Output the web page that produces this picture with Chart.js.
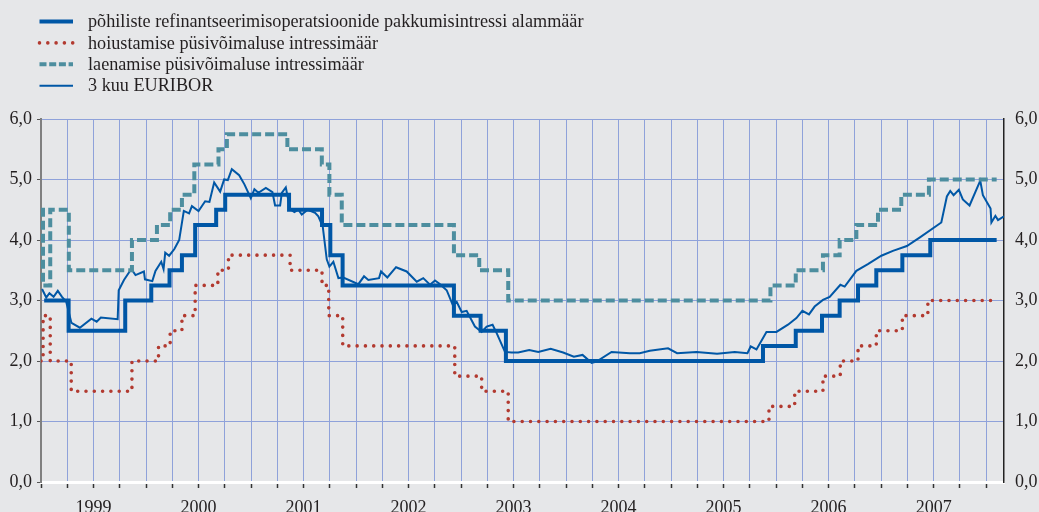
<!DOCTYPE html>
<html>
<head>
<meta charset="utf-8">
<script src="https://cdn.jsdelivr.net/npm/chart.js@4.4.1/dist/chart.umd.min.js"></script>
<style>
  html, body { margin: 0; padding: 0; background: #e6e7e9; }
  #wrap { width: 1039px; height: 512px; }
</style>
</head>
<body>
<div id="wrap"><canvas id="graafikIntressid" width="1039" height="512"></canvas></div>
<script>
// Intressimäärad 1999-2008 (aeg kümnendaastates)
const refiDates = [1999.03, 1999.263, 1999.802, 2000.05, 2000.224, 2000.342, 2000.468, 2000.668, 2000.754, 2001.362, 2001.676, 2001.755, 2001.872, 2002.932, 2003.186, 2003.427, 2005.875, 2006.187, 2006.437, 2006.605, 2006.78, 2006.954, 2007.202, 2007.468, 2008.1];
const refiRates = [3.0, 2.5, 3.0, 3.25, 3.5, 3.75, 4.25, 4.5, 4.75, 4.5, 4.25, 3.75, 3.25, 2.75, 2.5, 2.0, 2.25, 2.5, 2.75, 3.0, 3.25, 3.5, 3.75, 4.0, 4.0];

const depositDates = [1999.0, 1999.02, 1999.088, 1999.288, 1999.866, 2000.119, 2000.23, 2000.342, 2000.468, 2000.684, 2000.785, 2001.372, 2001.676, 2001.74, 2001.873, 2002.94, 2003.196, 2003.449, 2005.932, 2006.177, 2006.446, 2006.611, 2006.78, 2006.954, 2007.202, 2007.445, 2008.1];
const depositRates = [2.0, 2.75, 2.0, 1.5, 2.0, 2.25, 2.5, 2.75, 3.25, 3.5, 3.75, 3.5, 3.25, 2.75, 2.25, 1.75, 1.5, 1.0, 1.25, 1.5, 1.75, 2.0, 2.25, 2.5, 2.75, 3.0, 3.0];

const lendingDates = [1999.0, 1999.019, 1999.088, 1999.265, 1999.866, 2000.104, 2000.23, 2000.342, 2000.46, 2000.69, 2000.77, 2001.346, 2001.674, 2001.746, 2001.864, 2002.932, 2003.173, 2003.449, 2005.946, 2006.187, 2006.446, 2006.605, 2006.764, 2006.97, 2007.192, 2007.455, 2008.1];
const lendingRates = [4.5, 3.25, 4.5, 3.5, 4.0, 4.25, 4.5, 4.75, 5.25, 5.5, 5.75, 5.5, 5.25, 4.75, 4.25, 3.75, 3.5, 3.0, 3.25, 3.5, 3.75, 4.0, 4.25, 4.5, 4.75, 5.0, 5.0];

const euriborDates = [1999.01, 1999.05, 1999.08, 1999.12, 1999.16, 1999.20, 1999.24, 1999.29, 1999.37, 1999.48, 1999.53, 1999.57, 1999.73, 1999.74, 1999.79, 1999.86, 1999.90, 1999.98, 1999.99,
  2000.06, 2000.09, 2000.145, 2000.167, 2000.183, 2000.22, 2000.27, 2000.316, 2000.36, 2000.41, 2000.437, 2000.50, 2000.563, 2000.604, 2000.649, 2000.706, 2000.744, 2000.779, 2000.817, 2000.887, 2000.937, 2000.998,
  2001.032, 2001.07, 2001.141, 2001.204, 2001.229, 2001.277, 2001.293, 2001.331, 2001.372, 2001.413, 2001.451, 2001.483, 2001.54, 2001.61, 2001.641, 2001.683, 2001.721, 2001.746, 2001.784, 2001.832, 2001.879,
  2002.022, 2002.076, 2002.117, 2002.219, 2002.238, 2002.298, 2002.381, 2002.482, 2002.578, 2002.64, 2002.704, 2002.752, 2002.8, 2002.863, 2002.92, 2002.958,
  2003.006, 2003.053, 2003.132, 2003.196, 2003.244, 2003.30, 2003.339, 2003.418, 2003.481, 2003.544, 2003.649, 2003.735, 2003.853, 2003.972,
  2004.074, 2004.157, 2004.243, 2004.29, 2004.433, 2004.607, 2004.702, 2004.797, 2004.971,
  2005.057, 2005.242, 2005.438, 2005.606, 2005.727, 2005.758, 2005.813, 2005.908,
  2006.003, 2006.113, 2006.193, 2006.25, 2006.313, 2006.367, 2006.446, 2006.51, 2006.612, 2006.653, 2006.764, 2006.874,
  2007.002, 2007.112, 2007.245, 2007.366, 2007.573, 2007.626, 2007.658, 2007.69, 2007.74, 2007.778, 2007.842, 2007.944, 2007.969,
  2008.042, 2008.05, 2008.088, 2008.113, 2008.17];
const euriborRates = [3.19, 3.05, 3.12, 3.06, 3.16, 3.06, 2.98, 2.63, 2.55, 2.70, 2.65, 2.72, 2.69, 3.17, 3.34, 3.52, 3.42, 3.48, 3.35,
  3.32, 3.49, 3.64, 3.52, 3.79, 3.74, 3.85, 4.0, 4.48, 4.44, 4.56, 4.48, 4.64, 4.63, 4.95, 4.80, 5.0, 4.99, 5.17, 5.07, 4.92, 4.69,
  4.84, 4.78, 4.86, 4.79, 4.57, 4.57, 4.78, 4.87, 4.51, 4.46, 4.50, 4.42, 4.50, 4.45, 4.39, 4.22, 3.68, 3.56, 3.64, 3.37, 3.38,
  3.27, 3.40, 3.34, 3.37, 3.48, 3.38, 3.55, 3.48, 3.31, 3.37, 3.26, 3.33, 3.27, 3.17, 2.93, 2.98,
  2.81, 2.83, 2.57, 2.48, 2.57, 2.60, 2.46, 2.15, 2.14, 2.14, 2.18, 2.15, 2.20, 2.14,
  2.07, 2.10, 1.97, 1.99, 2.15, 2.13, 2.13, 2.17, 2.21,
  2.13, 2.15, 2.12, 2.15, 2.13, 2.24, 2.19, 2.48,
  2.48, 2.60, 2.71, 2.83, 2.77, 2.90, 3.01, 3.06, 3.26, 3.23, 3.49, 3.60,
  3.74, 3.82, 3.90, 4.04, 4.29, 4.72, 4.81, 4.74, 4.83, 4.67, 4.57, 4.98, 4.74,
  4.52, 4.29, 4.40, 4.33, 4.39];

const seriesLabels = [
  'põhiliste refinantseerimisoperatsioonide pakkumisintressi alammäär',
  'hoiustamise püsivõimaluse intressimäär',
  'laenamise püsivõimaluse intressimäär',
  '3 kuu EURIBOR'
];
const yearFirst = 1999;
const yearLast = 2008.17;

function toPoints(dates, values) {
  return dates.map((d, i) => ({ x: d, y: values[i] }));
}

// legend as four rows at the top left
const legendRows = {
  id: 'legendRows',
  afterDraw(chart) {
    const ctx = chart.ctx;
    ctx.save();
    ctx.font = '18.2px "Liberation Serif", serif';
    ctx.textBaseline = 'middle';
    ctx.fillStyle = '#231f20';
    chart.data.datasets.forEach((ds, i) => {
      const y = 21.5 + i * 21.4;
      ctx.beginPath();
      ctx.setLineDash(ds.legendDash || ds.borderDash || []);
      ctx.lineCap = ds.borderCapStyle || 'butt';
      ctx.lineWidth = ds.borderWidth;
      ctx.strokeStyle = ds.borderColor;
      ctx.moveTo(39.5, y);
      ctx.lineTo(73, y);
      ctx.stroke();
      ctx.setLineDash([]);
      ctx.fillText(ds.label, 88, y + 1);
    });
    ctx.restore();
  }
};

Chart.defaults.font.family = '"Liberation Serif", "Times New Roman", serif';
Chart.defaults.font.size = 18;
Chart.defaults.color = '#231f20';

const gridColor = '#8fa2da';
const commaTick = (v) => v.toFixed(1).replace('.', ',');

const ctxIntressid = document.getElementById('graafikIntressid').getContext('2d');
const graafikIntressid = new Chart(ctxIntressid, {
  type: 'line',
  data: {
    datasets: [{
      label: seriesLabels[0],
      data: toPoints(refiDates, refiRates),
      borderColor: '#0057a6',
      borderWidth: 4,
      stepped: true,
      pointRadius: 0
    }, {
      label: seriesLabels[1],
      data: toPoints(depositDates, depositRates),
      borderColor: '#b23a30',
      borderWidth: 3.6,
      borderDash: [0, 8.3],
      borderCapStyle: 'round',
      stepped: true,
      pointRadius: 0
    }, {
      label: seriesLabels[2],
      data: toPoints(lendingDates, lendingRates),
      borderColor: '#4d8e9f',
      borderWidth: 4,
      borderDash: [9, 4],
      legendDash: [7, 2.7],
      stepped: true,
      pointRadius: 0
    }, {
      label: seriesLabels[3],
      data: toPoints(euriborDates, euriborRates),
      borderColor: '#0057a6',
      borderWidth: 2,
      tension: 0,
      pointRadius: 0
    }]
  },
  options: {
    responsive: false,
    animation: false,
    layout: { padding: { top: 119, left: 0, right: 0, bottom: 0 } },
    plugins: {
      legend: { display: false },
      tooltip: { enabled: false }
    },
    scales: {
      x: {
        type: 'linear',
        min: yearFirst,
        max: yearLast,
        afterFit: (scale) => { scale.height = 30; },
        grid: { color: gridColor, lineWidth: 1, tickColor: '#333', tickLength: 6, tickWidth: 1.5 },
        border: { color: '#ffffff', width: 3 },
        ticks: {
          stepSize: 0.25,
          includeBounds: false,
          autoSkip: false,
          maxRotation: 0,
          padding: 9,
          callback: (v) => Math.abs(v - Math.floor(v) - 0.5) < 0.01 ? String(Math.floor(v)) : ''
        }
      },
      y: {
        position: 'left',
        min: 0,
        max: 6,
        afterFit: (scale) => { scale.width = 41; },
        grid: { color: gridColor, lineWidth: 1, tickColor: '#555', tickLength: 4 },
        border: { color: '#808080', width: 2 },
        ticks: { stepSize: 1, padding: 5, callback: commaTick }
      },
      y2: {
        position: 'right',
        min: 0,
        max: 6,
        afterFit: (scale) => { scale.width = 35; },
        grid: { drawOnChartArea: false, drawTicks: false },
        border: { color: '#222', width: 1.5 },
        ticks: { stepSize: 1, padding: 11, callback: commaTick }
      }
    }
  },
  plugins: [legendRows]
});
</script>
</body>
</html>
